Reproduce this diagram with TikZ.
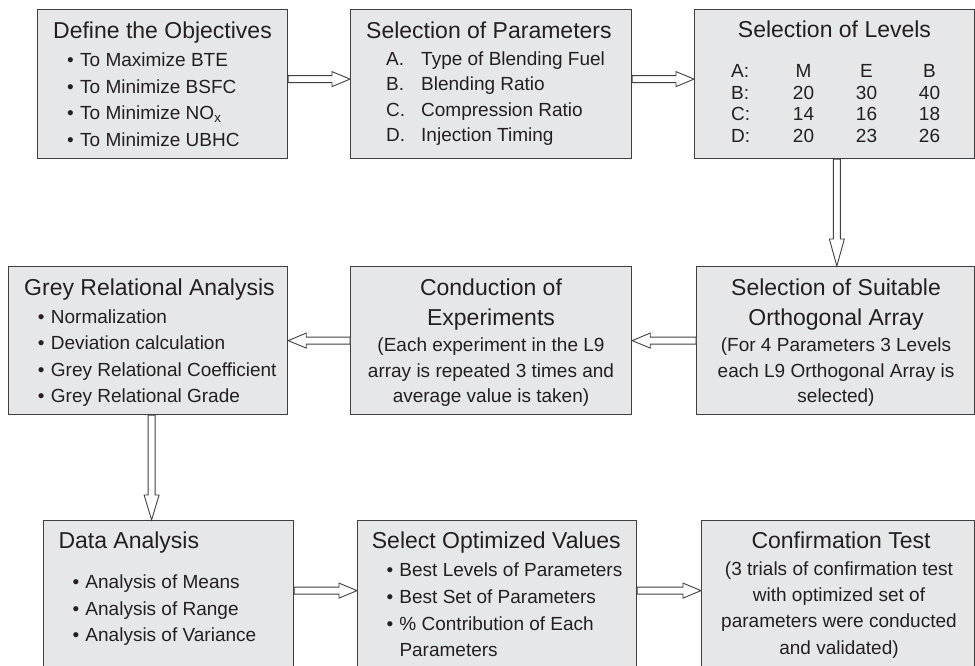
\documentclass[tikz,border=0pt]{standalone}
\usepackage{fontspec}
\setmainfont{Liberation Sans}
\usetikzlibrary{calc}
\definecolor{boxfill}{RGB}{230,231,232}
\definecolor{boxline}{RGB}{64,64,65}
\definecolor{ink}{RGB}{35,31,32}
\newcommand{\bul}{\makebox[13pt][l]{\textbullet}}
\newcommand{\lbl}[1]{\makebox[35pt][l]{#1}}
\tikzset{
    stage/.style={draw=boxline, fill=boxfill, line width=1.2pt, anchor=north west, inner sep=0pt},
    head/.style={font=\fontsize{23}{27}\selectfont, text=ink, inner sep=0pt},
    item/.style={font=\fontsize{19}{23}\selectfont, text=ink, inner sep=0pt, anchor=base west},
    barrow/.style={draw=boxline, fill=white, line width=0.9pt, line join=miter,
        to path={
            ($(\tikztostart)!3.5pt!90:(\tikztotarget)$)
            -- ($(\tikztotarget)!#1!(\tikztostart) + (\tikztostart)!3.5pt!90:(\tikztotarget) - (\tikztostart)$)
            -- ($(\tikztotarget)!#1!(\tikztostart) + (\tikztostart)!7.5pt!90:(\tikztotarget) - (\tikztostart)$)
            -- (\tikztotarget)
            -- ($(\tikztotarget)!#1!(\tikztostart) + (\tikztostart)!7.5pt!-90:(\tikztotarget) - (\tikztostart)$)
            -- ($(\tikztotarget)!#1!(\tikztostart) + (\tikztostart)!3.5pt!-90:(\tikztotarget) - (\tikztostart)$)
            -- ($(\tikztostart)!3.5pt!-90:(\tikztotarget)$)
            -- cycle}},
    barrow/.default=18pt
}
\begin{document}
\begin{tikzpicture}[x=1pt,y=-1pt]
    \useasboundingbox (0,0) rectangle (975,665);
    \clip (0,0) rectangle (975,665);
    \node[stage, minimum width=250pt, minimum height=149pt] (obj) at (37,9) {};
    \node[stage, minimum width=281pt, minimum height=149pt] (par) at (350,9) {};
    \node[stage, minimum width=279.5pt, minimum height=149pt] (lev) at (694,9) {};
    \node[stage, minimum width=279pt, minimum height=148pt] (gra) at (8,266) {};
    \node[stage, minimum width=281pt, minimum height=148pt] (exp) at (350,266) {};
    \node[stage, minimum width=277.5pt, minimum height=148pt] (arr) at (696,266) {};
    \node[stage, minimum width=250pt, minimum height=170pt] (dat) at (43,520) {};
    \node[stage, minimum width=279pt, minimum height=170pt] (opt) at (357,520) {};
    \node[stage, minimum width=272.5pt, minimum height=170pt] (con) at (701,520) {};

    \draw[barrow] ([yshift=5pt]obj.east) to ([yshift=5pt]par.west);
    \draw[barrow] ([yshift=5pt]par.east) to ([yshift=5pt]lev.west);
    \coordinate (lv) at ([xshift=2.5pt]lev.south);
    \draw[barrow=27pt] (lv) to (lv |- arr.north);
    \draw[barrow] (arr.west) to (exp.east);
    \draw[barrow] (exp.west) to (gra.east);
    \coordinate (gv) at ([xshift=3.5pt]gra.south);
    \draw[barrow=25pt] (gv) to (gv |- dat.north);
    \draw[barrow] ([yshift=15pt]dat.east) to ([yshift=15pt]opt.west);
    \draw[barrow] ([yshift=15pt]opt.east) to ([yshift=15pt]con.west);

    \node[head, anchor=base west] (obj-t) at (53,38.3) {Define the Objectives};
    \foreach \txt [count=\i] in {To Maximize BTE, To Minimize BSFC, To Minimize NO\textsubscript{x}, To Minimize UBHC}
        \node[item] (obj-\i) at (67,{66.7+26.6*(\i-1)}) {\bul\txt};

    \node[head, anchor=base west] (par-t) at (366,38.3) {Selection of Parameters};
    \foreach \k/\txt [count=\i] in {A./Type of Blending Fuel, B./Blending Ratio, C./Compression Ratio, D./Injection Timing}
        \node[item] (par-\i) at (386,{65+25.6*(\i-1)}) {\lbl{\k}\txt};

    \node[head, anchor=base] (lev-t) at (834.5,37.5) {Selection of Levels};
    \foreach \rowlab/\colm/\cole/\colb [count=\i] in {A:/M/E/B, B:/20/30/40, C:/14/16/18, D:/20/23/26} {
        \node[item] (lev-\i) at (731,{77.3+21.8*(\i-1)}) {\rowlab};
        \node[item, anchor=base] (lev-\i-a) at (803.5,{77.3+21.8*(\i-1)}) {\colm};
        \node[item, anchor=base] (lev-\i-b) at (866.5,{77.3+21.8*(\i-1)}) {\cole};
        \node[item, anchor=base] (lev-\i-c) at (929.5,{77.3+21.8*(\i-1)}) {\colb};
    }

    \node[head, anchor=base west] (gra-t) at (24,295) {Grey Relational Analysis};
    \foreach \txt [count=\i] in {Normalization, Deviation calculation, Grey Relational Coefficient, Grey Relational Grade}
        \node[item] (gra-\i) at (37.7,{323.3+26.5*(\i-1)}) {\bul\txt};

    \node[head, anchor=base] (exp-t) at (491,295) {Conduction of};
    \node[head, anchor=base] (exp-u) at (491,325) {Experiments};
    \node[item, anchor=base] (exp-1) at (491,351.7) {(Each experiment in the L9};
    \node[item, anchor=base] (exp-2) at (491,377.3) {array is repeated 3 times and};
    \node[item, anchor=base] (exp-3) at (491,402.7) {average value is taken)};

    \node[head, anchor=base] (arr-t) at (836,295) {Selection of Suitable};
    \node[head, anchor=base] (arr-u) at (836,325) {Orthogonal Array};
    \node[item, anchor=base] (arr-1) at (836,351.7) {(For 4 Parameters 3 Levels};
    \node[item, anchor=base] (arr-2) at (836,377.3) {each L9 Orthogonal Array is};
    \node[item, anchor=base] (arr-3) at (836,402.7) {selected)};

    \node[head, anchor=base west] (dat-t) at (58.3,548.3) {Data Analysis};
    \foreach \txt [count=\i] in {Analysis of Means, Analysis of Range, Analysis of Variance}
        \node[item] (dat-\i) at (72.3,{588.3+26.7*(\i-1)}) {\bul\txt};

    \node[head, anchor=base west] (opt-t) at (371.7,548.3) {Select Optimized Values};
    \foreach \txt [count=\i] in {Best Levels of Parameters, Best Set of Parameters, \% Contribution of Each}
        \node[item] (opt-\i) at (386.3,{576.7+26.7*(\i-1)}) {\bul\txt};
    \node[item] (opt-4) at (399.3,656.7) {Parameters};

    \node[head, anchor=base] (con-t) at (841,548.3) {Confirmation Test};
    \node[item, anchor=base] (con-1) at (839,575) {(3 trials of confirmation test};
    \node[item, anchor=base] (con-2) at (839,601.3) {with optimized set of};
    \node[item, anchor=base] (con-3) at (839,627.6) {parameters were conducted};
    \node[item, anchor=base] (con-4) at (839,654) {and validated)};
\end{tikzpicture}
\end{document}
